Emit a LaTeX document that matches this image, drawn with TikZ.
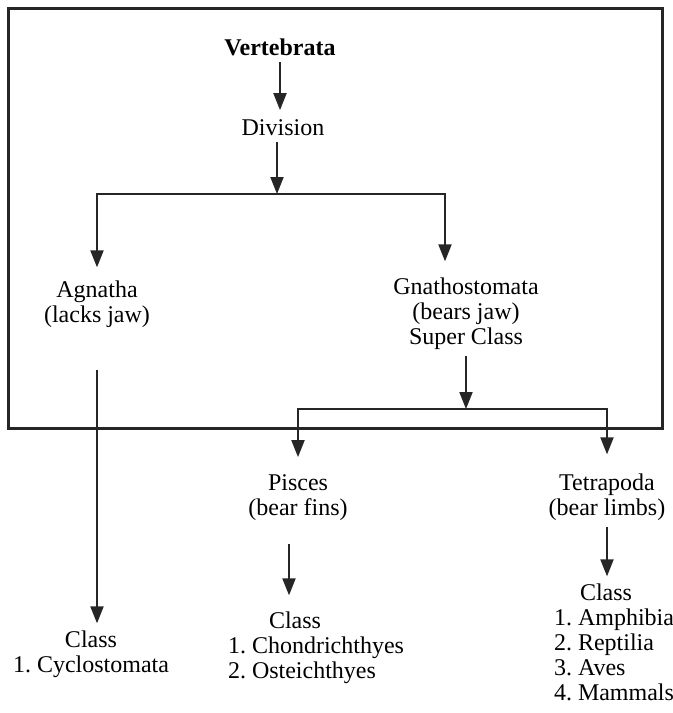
\documentclass[tikz,border=0pt]{standalone}
\usepackage{fontspec}
\setmainfont{Liberation Serif}
\usetikzlibrary{arrows.meta}
\frenchspacing

\begin{document}
\begin{tikzpicture}[x=0.5pt,y=-0.5pt,->,>={Triangle[length=8.5pt,width=6.5pt]},
  line width=1pt,draw=black!85,
  taxon/.style={anchor=base,inner sep=3pt,align=center,font=\fontsize{12}{12.5}\selectfont},
  classes/.style={taxon,align=left}]

  \useasboundingbox (0,0) rectangle (673,713);
  \draw[-,line width=1.5pt] (8,8) rectangle (662,428);

  % base anchors sit on the last line of each node
  \node[taxon,font=\fontsize{12}{12.5}\selectfont\bfseries] (vert) at (280,55) {Vertebrata};
  \node[taxon] (division) at (283,135) {Division};
  \node[taxon] (agnatha) at (97,322) {Agnatha\\(lacks jaw)};
  \node[taxon] (gnatho) at (466,344) {Gnathostomata\\(bears jaw)\\Super Class};
  \node[taxon] (pisces) at (298,515) {Pisces\\(bear fins)};
  \node[taxon] (tetra) at (607,515) {Tetrapoda\\(bear limbs)};

  \node[taxon] (cyclo) at (91,672) {Class\\1. Cyclostomata};
  \node[classes,anchor=base west] (fishes) at (221,678)
    {\hspace*{20.5pt}Class\\1. Chondrichthyes\\2. Osteichthyes};
  \node[classes,anchor=base west] (limbed) at (547,700)
    {\hspace*{13pt}Class\\1. Amphibia\\2. Reptilia\\3. Aves\\4. Mammals};

  \coordinate (fork1) at (277,194);
  \coordinate (fork2) at (466,409);

  % upper split
  \draw[shorten >=1pt] (vert) -- (vert |- division.north);
  \draw (division.south -| fork1) -- (fork1);
  \draw[shorten >=3pt] (fork1) -| (agnatha);
  \draw[shorten >=4.5pt] (fork1) -| ([xshift=-10.5pt]gnatho.north);

  % lower split
  \draw (gnatho) -- (fork2);
  \draw[shorten >=5pt] (fork2) -| (pisces);
  \draw[shorten >=6pt] (fork2) -| (tetra);

  % down to the classes
  \draw[shorten <=18pt] (agnatha.south) -- (agnatha.south |- cyclo.north);
  \draw[shorten <=8.5pt,shorten >=4.5pt] ([xshift=-4.5pt]pisces.south)
    -- ([xshift=-4.5pt]pisces.south |- fishes.north);
  \draw (tetra.south) -- (tetra.south |- limbed.north);
\end{tikzpicture}
\end{document}
